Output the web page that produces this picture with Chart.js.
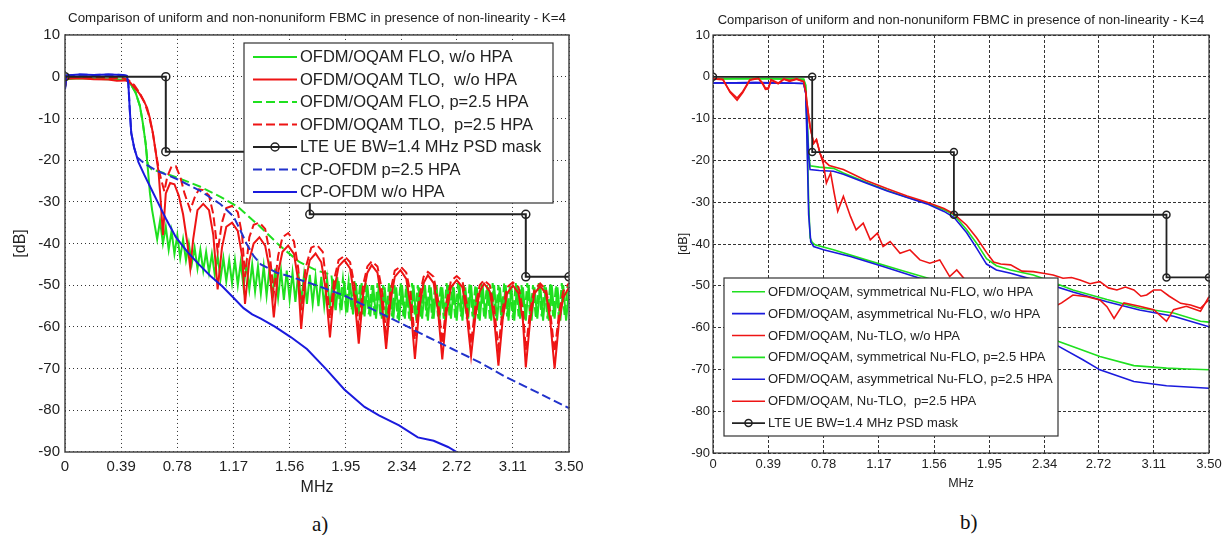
<!DOCTYPE html>
<html>
<head>
<meta charset="utf-8">
<script src="https://cdn.jsdelivr.net/npm/chart.js@4.4.1/dist/chart.umd.min.js"></script>
<style>
  body { margin: 0; background: #fff; width: 1227px; height: 535px; position: relative; overflow: hidden; }
  #left { position: absolute; left: 0; top: 0; }
  #right { position: absolute; left: 620px; top: 0; }
  .cap { position: absolute; font: 21px 'Liberation Serif', serif; line-height: 1; color: #111; }
</style>
</head>
<body>
<canvas id="left" width="600" height="500"></canvas>
<canvas id="right" width="607" height="500"></canvas>
<div class="cap" style="left:312px;top:514px">a)</div>
<div class="cap" style="left:960px;top:512px">b)</div>
<script>
const FONT = "'Liberation Sans', Arial, sans-serif"
const TITLE = 'Comparison of uniform and non-nonuniform FBMC in presence of non-linearity - K=4'
const X_TICKS = [0, 0.39, 0.78, 1.17, 1.56, 1.95, 2.34, 2.72, 3.11, 3.5]
const X_LABELS = ['0', '0.39', '0.78', '1.17', '1.56', '1.95', '2.34', '2.72', '3.11', '3.50']

// LTE UE BW=1.4 MHz PSD mask (same in both panels)
const mask = [[0,0],[0.7,0],[0.7,-18],[1.7,-18],[1.7,-33],[3.2,-33],[3.2,-48],[3.5,-48]]

// ---- panel a) ----
const floNoHpa = [
  [0,-2.5],[0.01,-0.6],[0.1,-0.4],[0.2,-0.5],[0.3,-0.6],[0.4,-0.7],[0.43,-0.9],[0.46,-2],[0.49,-3.8],[0.52,-7],
  [0.54,-11],[0.56,-16],[0.575,-22],[0.59,-28],[0.605,-32],[0.62,-35],
  [0.64,-39],[0.66,-34.5],[0.68,-40],[0.70,-36],[0.72,-41.5],[0.74,-37],[0.76,-42.5],[0.78,-38],[0.80,-43.5],[0.82,-39],
  [0.84,-44],[0.86,-40],[0.88,-45],[0.90,-41],[0.92,-46],[0.94,-41.5],[0.96,-46.5],[0.98,-42],[1.00,-47],[1.02,-42.5],
  [1.04,-47.5],[1.06,-43],[1.08,-48.5],[1.10,-43.5],[1.12,-49],[1.14,-44],[1.16,-49.5],[1.18,-44],[1.20,-50],[1.22,-44.5],
  [1.24,-50.5],[1.26,-45],[1.28,-51],[1.30,-45],[1.32,-51.5],[1.34,-45.5],[1.36,-52],[1.38,-45.5],[1.40,-52.5],[1.42,-46],
  [1.44,-53],[1.46,-46],[1.48,-53],[1.50,-46.5],[1.52,-53.5],[1.54,-46.5],[1.56,-53.5],[1.58,-47],[1.60,-54],[1.62,-47],
  [1.64,-54],[1.66,-47.5],[1.68,-54.5],[1.70,-47.5],[1.72,-54.5],[1.74,-48],[1.76,-55],[1.78,-48],[1.80,-55],[1.82,-48.5],
  [1.84,-55.5],[1.86,-48.5],[1.88,-56],[1.90,-49],[1.92,-56],[1.94,-49],[1.96,-56.5],[1.98,-49.5],[2.00,-57],[2.02,-49.5],
  [2.04,-57],[2.06,-49.5],[2.08,-57.5],[2.10,-50],[2.12,-57.5],[2.14,-50],[2.16,-58],[2.18,-50],[2.20,-58],[2.22,-50.5],
  [2.24,-58.5],[2.26,-50],[2.28,-58],[2.30,-50.5],[2.32,-58.5],[2.34,-50],[2.36,-58],[2.38,-50.5],[2.40,-58.5],[2.42,-50],
  [2.44,-58.5],[2.46,-50.5],[2.48,-58],[2.50,-50],[2.52,-58.5],[2.54,-50.5],[2.56,-58],[2.58,-50],[2.60,-58.5],[2.62,-50.5],
  [2.64,-58.5],[2.66,-50],[2.68,-58],[2.70,-50.5],[2.72,-58.5],[2.74,-50],[2.76,-58.5],[2.78,-50.5],[2.80,-58],[2.82,-50],
  [2.84,-58.5],[2.86,-50.5],[2.88,-58.5],[2.90,-50],[2.92,-58],[2.94,-50.5],[2.96,-58.5],[2.98,-50],[3.00,-58.5],[3.02,-50.5],
  [3.04,-58],[3.06,-50],[3.08,-58.5],[3.10,-50.5],[3.12,-58.5],[3.14,-50],[3.16,-58],[3.18,-50.5],[3.20,-58.5],[3.22,-50],
  [3.24,-58.5],[3.26,-50.5],[3.28,-58],[3.30,-50],[3.32,-58.5],[3.34,-50.5],[3.36,-58.5],[3.38,-50],[3.40,-58],[3.42,-50.5],
  [3.44,-58.5],[3.46,-50],[3.48,-58.5],[3.50,-51],
]
const floHpa = [
  [0,-2.5],[0.01,-0.3],[0.1,-0.2],[0.2,-0.3],[0.3,-0.4],[0.4,-0.5],[0.43,-0.8],[0.46,-2],[0.49,-3.8],[0.52,-7],
  [0.54,-11],[0.56,-16],[0.575,-21],[0.6,-22.2],[0.64,-22.6],[0.78,-24.2],[0.94,-26.4],[1.08,-28.8],[1.2,-31.2],
  [1.35,-35.8],[1.49,-40.5],[1.63,-44.5],[1.75,-46.5],[1.85,-47.5],
  [1.87,-54],[1.89,-48],[1.91,-55],[1.93,-48.5],[1.95,-55.5],[1.97,-49],[1.99,-56],[2.01,-49],[2.03,-56.5],[2.05,-49.5],
  [2.07,-57],[2.09,-49.5],[2.11,-57],[2.13,-50],[2.15,-57.5],[2.17,-49.5],[2.19,-57.5],[2.21,-50],[2.23,-58],[2.25,-49.5],
  [2.27,-57.5],[2.29,-50],[2.31,-58],[2.33,-49.5],[2.35,-57.5],[2.37,-50],[2.39,-58],[2.41,-49.5],[2.43,-57.5],[2.45,-50],
  [2.47,-58],[2.49,-49.5],[2.51,-57.5],[2.53,-50],[2.55,-58],[2.57,-49.5],[2.59,-57.5],[2.61,-50],[2.63,-58],[2.65,-49.5],
  [2.67,-57.5],[2.69,-50],[2.71,-58],[2.73,-49.5],[2.75,-57.5],[2.77,-50],[2.79,-58],[2.81,-49.5],[2.83,-57.5],[2.85,-50],
  [2.87,-58],[2.89,-49.5],[2.91,-57.5],[2.93,-50],[2.95,-58],[2.97,-49.5],[2.99,-57.5],[3.01,-50],[3.03,-58],[3.05,-49.5],
  [3.07,-57.5],[3.09,-50],[3.11,-58],[3.13,-49.5],[3.15,-57.5],[3.17,-50],[3.19,-58],[3.21,-49.5],[3.23,-57.5],[3.25,-50],
  [3.27,-58],[3.29,-49.5],[3.31,-57.5],[3.33,-50],[3.35,-58],[3.37,-49.5],[3.39,-57.5],[3.41,-50],[3.43,-58],[3.45,-49.5],
  [3.47,-57.5],[3.49,-50],
]
const tloNoHpa = [
  [0,-2.5],[0.01,-0.5],[0.1,-0.4],[0.2,-0.6],[0.3,-0.7],[0.36,-1],[0.42,-0.9],[0.45,-1.3],[0.48,-2.5],[0.52,-4.2],
  [0.55,-6],[0.57,-7.5],[0.59,-10],[0.61,-13.5],[0.63,-18],[0.65,-23],[0.665,-30],[0.68,-38],
  [0.70,-28],[0.73,-25.5],[0.76,-25.8],[0.79,-28.5],[0.82,-33],[0.85,-40],[0.87,-46],[0.89,-39],[0.92,-32],[0.96,-30.5],
  [1.0,-32],[1.03,-38],[1.06,-51],[1.09,-41],[1.12,-36],[1.16,-35],[1.2,-37],[1.23,-43],[1.25,-54.5],[1.28,-44],
  [1.31,-40],[1.35,-38.5],[1.39,-40.5],[1.42,-46],[1.45,-57.7],[1.48,-47],[1.51,-42],[1.55,-40.5],[1.59,-42.5],[1.62,-49],
  [1.64,-60.5],[1.67,-49],[1.70,-44],[1.74,-42.4],[1.78,-44.5],[1.81,-51],[1.84,-62.5],[1.87,-51],[1.90,-45.5],[1.94,-44],
  [1.98,-46],[2.01,-53],[2.04,-64],[2.07,-52.5],[2.10,-47],[2.13,-45.2],[2.17,-47],[2.20,-54],[2.23,-65.3],[2.26,-54],
  [2.29,-48],[2.33,-46.4],[2.37,-48.5],[2.40,-55],[2.43,-67.7],[2.46,-55.5],[2.49,-49.5],[2.52,-47.6],[2.56,-49.5],[2.59,-56],
  [2.62,-67.8],[2.65,-56.5],[2.68,-50.5],[2.72,-48.8],[2.76,-50.5],[2.79,-57],[2.82,-67],[2.85,-57.5],[2.88,-51.5],[2.91,-49.6],
  [2.95,-51.5],[2.98,-58],[3.01,-69.3],[3.04,-58],[3.07,-52],[3.11,-50],[3.15,-52],[3.18,-58.5],[3.20,-69.7],[3.23,-58.5],
  [3.26,-52],[3.30,-50.2],[3.34,-52],[3.37,-58.5],[3.40,-70],[3.43,-59],[3.46,-53],[3.50,-50.5],
]
const tloHpa = [
  [0,-2.5],[0.01,-0.2],[0.1,-0.1],[0.2,-0.2],[0.3,-0.3],[0.4,-0.4],[0.44,-0.8],[0.48,-2],[0.52,-4],[0.55,-6],
  [0.58,-9],[0.61,-13.5],[0.63,-18],[0.65,-22],[0.67,-25],[0.69,-27.5],[0.71,-24],[0.74,-21.5],[0.77,-21.5],[0.80,-24],
  [0.83,-28],[0.87,-32],[0.90,-29],[0.93,-27],[0.96,-27.2],[1.0,-28.5],[1.03,-33],[1.06,-42],[1.09,-35],[1.12,-31.5],
  [1.16,-31],[1.2,-32.5],[1.23,-38],[1.25,-48],[1.28,-38.5],[1.31,-35.5],[1.35,-35],[1.39,-36.5],[1.42,-42],[1.45,-52],
  [1.48,-43],[1.51,-38.5],[1.55,-37.5],[1.59,-39.5],[1.62,-46],[1.64,-56],[1.67,-46],[1.71,-41],[1.75,-40.4],[1.79,-42],
  [1.81,-48],[1.84,-58],[1.87,-48.5],[1.90,-44],[1.94,-43],[1.98,-44.5],[2.01,-50],[2.04,-60],[2.07,-50],[2.10,-45.5],
  [2.13,-44.3],[2.17,-45.5],[2.20,-51],[2.23,-61.5],[2.26,-51.5],[2.29,-46.5],[2.33,-45.5],[2.37,-47],[2.40,-52],[2.43,-63],
  [2.46,-53],[2.49,-48],[2.52,-46.8],[2.56,-48],[2.59,-53.5],[2.62,-64],[2.65,-54],[2.68,-49],[2.72,-47.8],[2.76,-49],
  [2.79,-54.5],[2.82,-64],[2.85,-55],[2.88,-50],[2.91,-48.8],[2.95,-50],[2.98,-55.5],[3.01,-65],[3.04,-55.5],[3.07,-50.5],
  [3.11,-49.3],[3.15,-50.5],[3.18,-56],[3.20,-65.5],[3.23,-56],[3.26,-51],[3.30,-49.6],[3.34,-51],[3.37,-56.5],[3.40,-66],
  [3.43,-57],[3.46,-51.5],[3.50,-49.5],
]
const cpHpa = [
  [0,-3],[0.01,0.3],[0.1,0.5],[0.2,0.4],[0.3,0.5],[0.4,0.4],[0.43,0.2],[0.44,-1.8],[0.45,-8],[0.46,-13.5],
  [0.48,-17],[0.5,-19.3],[0.55,-20.8],[0.64,-22.6],[0.78,-24.6],[0.94,-27.4],[1.08,-30.6],[1.17,-33.5],[1.22,-37],
  [1.26,-40],[1.31,-43],[1.36,-45],[1.47,-47],[1.57,-48],[1.76,-50.2],[1.94,-52.5],[2.13,-55.7],[2.32,-58.9],
  [2.5,-62.1],[2.69,-65.3],[2.88,-68.5],[3.06,-72],[3.28,-75.7],[3.5,-79.5],
]
const cpNoHpa = [
  [0,-3],[0.01,0.3],[0.1,0.5],[0.2,0.4],[0.3,0.5],[0.4,0.4],[0.43,0.2],[0.44,-1.8],[0.45,-8],[0.46,-13.5],
  [0.48,-17],[0.51,-20.5],[0.55,-23.5],[0.6,-27],[0.65,-30.5],[0.7,-34],[0.77,-38.5],[0.85,-42],[0.93,-45],
  [1.01,-47.8],[1.09,-50.2],[1.17,-53],[1.24,-55.5],[1.3,-57],[1.36,-58],[1.46,-60],[1.57,-62.5],[1.68,-65.3],
  [1.81,-70],[1.94,-75],[2.08,-79.2],[2.18,-81.2],[2.32,-83.6],[2.45,-86.5],[2.56,-87.3],[2.66,-88.8],[2.72,-90],
]

// ---- panel b) ----
const symNoHpa = [
  [0,-0.5],[0.3,-0.4],[0.5,-0.5],[0.64,-0.6],[0.655,-3],[0.665,-15],[0.675,-30],[0.685,-38.5],[0.7,-39.6],[0.72,-40.2],
  [0.85,-41.4],[1.08,-43.8],[1.32,-46.2],[1.56,-48.6],[1.8,-51.5],[2.0,-55],[2.2,-59],[2.44,-63.3],[2.6,-65.3],
  [2.73,-66.9],[2.97,-69.1],[3.2,-69.7],[3.35,-69.9],[3.5,-70.1],
]
const asymNoHpa = [
  [0,-1.5],[0.3,-1.4],[0.5,-1.5],[0.64,-1.6],[0.655,-4],[0.665,-18],[0.675,-33],[0.69,-39.5],[0.71,-40.6],[0.78,-41.4],
  [0.97,-43],[1.2,-45.4],[1.46,-48.2],[1.7,-51],[1.95,-55.5],[2.2,-60],[2.44,-64.5],[2.61,-67.7],[2.73,-70.1],
  [2.97,-72.9],[3.2,-73.9],[3.5,-74.5],
]
const tloNuNoHpa = [
  [0,-0.5],[0.07,-0.7],[0.12,-3.5],[0.17,-5.1],[0.21,-3.5],[0.26,-0.7],[0.32,-0.3],[0.35,-1.5],[0.37,-2.7],[0.39,-2.7],
  [0.41,-0.7],[0.46,-1.5],[0.5,-0.5],[0.54,-0.9],[0.59,-0.5],[0.64,-1.1],[0.656,-3.9],[0.66,-5.5],[0.685,-11.9],
  [0.71,-15.9],[0.73,-15],[0.755,-18.3],[0.78,-21],[0.80,-25.4],[0.83,-23],[0.855,-27.8],[0.88,-32.2],[0.92,-28.6],
  [0.97,-33.4],[1.01,-36.6],[1.06,-35],[1.11,-39],[1.16,-37.4],[1.2,-40.6],[1.25,-39.4],[1.32,-42.2],[1.39,-41.4],
  [1.46,-43.8],[1.53,-44.6],[1.6,-43.8],[1.67,-47.8],[1.72,-46.2],[1.79,-49],[1.86,-50],[1.93,-49],[2.0,-52],[2.1,-51.5],
  [2.2,-54],[2.3,-52.5],[2.38,-55.5],[2.46,-54.1],[2.54,-52.2],[2.64,-52.6],[2.73,-53.4],[2.78,-55],[2.83,-57.8],
  [2.9,-54.1],[3.01,-54.9],[3.11,-55.7],[3.2,-58.5],[3.25,-55.7],[3.34,-54.9],[3.44,-56.1],[3.5,-52.6],
]
const symHpa = [
  [0,-0.5],[0.3,-0.4],[0.5,-0.5],[0.64,-0.6],[0.655,-2],[0.665,-10],[0.675,-18],[0.685,-21.3],[0.75,-21.6],[0.85,-21.9],
  [0.92,-23],[1.08,-25.2],[1.23,-27.2],[1.37,-28.8],[1.51,-30.2],[1.63,-31.8],[1.70,-33],[1.79,-36.6],[1.86,-39.8],
  [1.93,-43.5],[2.0,-45.2],[2.1,-46.2],[2.26,-47.4],[2.31,-48],[2.54,-51],[2.78,-53.3],[3.01,-55.3],[3.25,-56.5],
  [3.44,-58.5],[3.5,-58.7],
]
const asymHpa = [
  [0,-1.5],[0.3,-1.4],[0.5,-1.5],[0.64,-1.6],[0.655,-4],[0.665,-12],[0.675,-19],[0.685,-22.2],[0.75,-22.4],[0.85,-22.6],
  [0.92,-23.3],[1.08,-25.4],[1.23,-27.3],[1.37,-28.9],[1.51,-30.4],[1.63,-32.2],[1.70,-33.6],[1.79,-37.3],[1.86,-41],
  [1.93,-44.8],[2.0,-46.2],[2.1,-47],[2.31,-49],[2.54,-51.5],[2.78,-53.8],[3.01,-55.8],[3.25,-57.3],[3.44,-59.2],[3.5,-59.8],
]
const tloNuHpa = [
  [0,-0.4],[0.07,-0.6],[0.12,-3.7],[0.17,-5.6],[0.21,-3.8],[0.26,-0.8],[0.32,-0.4],[0.35,-1.7],[0.37,-3],[0.39,-2.9],
  [0.41,-0.8],[0.46,-1.7],[0.5,-0.6],[0.54,-1.1],[0.59,-0.6],[0.64,-1.2],[0.656,-3.9],[0.66,-5.5],[0.685,-11.9],
  [0.71,-15.9],[0.73,-15],[0.755,-18.3],[0.78,-20],[0.82,-21.2],[0.92,-22.2],[1.08,-24.8],[1.23,-26.8],[1.37,-28.5],
  [1.51,-30],[1.63,-31.5],[1.70,-32.8],[1.79,-35.5],[1.86,-38.5],[1.93,-42],[1.98,-44.3],[2.03,-44.8],[2.1,-45],
  [2.18,-46.5],[2.26,-46.6],[2.33,-47],[2.4,-47.4],[2.47,-48.2],[2.53,-48],[2.59,-48.6],[2.66,-49.5],[2.73,-49],
  [2.79,-50.5],[2.85,-51],[2.91,-50.3],[2.97,-51],[3.02,-52.5],[3.06,-52.2],[3.11,-51],[3.16,-51],[3.22,-52.5],
  [3.3,-54.2],[3.37,-54.6],[3.44,-55.4],[3.48,-54],[3.5,-53.4],
]

const GREEN = '#1fe01f'
const RED = '#ee1414'
const BLUE = '#1a1add'
const BLACK = '#222'

function line(label, pts, color, width, dash) {
  return {
    label,
    data: pts.map(([x, y]) => ({x, y})),
    borderColor: color,
    backgroundColor: color,
    borderWidth: width,
    borderDash: dash || [],
    pointRadius: 0,
    tension: 0,
    fill: false,
  }
}

function maskLine(width, r) {
  return Object.assign(line('LTE UE BW=1.4 MHz PSD mask', mask, BLACK, width), {
    pointRadius: r,
    pointBorderColor: BLACK,
    pointBackgroundColor: 'rgba(0,0,0,0)',
    pointBorderWidth: 1.5,
  })
}

// frame round the plot area and a MATLAB-like boxed legend
const boxLegend = {
  id: 'boxLegend',
  afterDraw(chart, args, o) {
    const {ctx, chartArea: a} = chart
    ctx.save()
    ctx.strokeStyle = o.frameColor
    ctx.lineWidth = o.frameWidth
    ctx.strokeRect(a.left, a.top, a.right - a.left, a.bottom - a.top)
    ctx.fillStyle = '#fff'
    ctx.fillRect(o.x, o.y, o.w, o.h)
    ctx.strokeStyle = '#333'
    ctx.lineWidth = 1.2
    ctx.strokeRect(o.x, o.y, o.w, o.h)
    ctx.font = `${o.fontSize}px ${FONT}`
    ctx.textBaseline = 'middle'
    o.order.forEach((k, i) => {
      const ds = chart.data.datasets[k]
      const y = o.y + o.first + i * o.rowH
      ctx.setLineDash(ds.borderDash)
      ctx.strokeStyle = ds.borderColor
      ctx.lineWidth = ds.borderWidth
      ctx.beginPath()
      ctx.moveTo(o.x + o.s1, y)
      ctx.lineTo(o.x + o.s2, y)
      ctx.stroke()
      ctx.setLineDash([])
      if (ds.pointRadius) {
        ctx.lineWidth = 1.5
        ctx.beginPath()
        ctx.arc(o.x + (o.s1 + o.s2) / 2, y, ds.pointRadius, 0, Math.PI * 2)
        ctx.stroke()
      }
      ctx.fillStyle = '#222'
      ctx.fillText(ds.label, o.x + o.tx, y + 0.5)
    })
    ctx.restore()
  },
}

function makeChart(id, datasets, c) {
  const tickFont = {family: FONT, size: c.tickSize}
  return new Chart(document.getElementById(id), {
    type: 'line',
    data: {datasets},
    plugins: [boxLegend],
    options: {
      responsive: false,
      animation: false,
      layout: {padding: {left: c.padLeft, right: c.padRight, top: 0, bottom: 0}},
      plugins: {
        legend: {display: false},
        tooltip: {enabled: false},
        title: {
          display: true,
          text: TITLE,
          fullSize: false,
          color: '#222',
          font: {family: FONT, size: c.titleSize, weight: 'normal'},
          padding: {top: c.titleTop, bottom: c.titleBottom},
        },
        boxLegend: c.legend,
      },
      scales: {
        x: {
          type: 'linear',
          min: 0,
          max: 3.5,
          afterBuildTicks: s => {
            s.ticks = X_TICKS.map(v => ({value: v}))
          },
          afterFit: s => {
            s.height = c.xH
          },
          ticks: {
            autoSkip: false,
            maxRotation: 0,
            font: tickFont,
            color: '#222',
            padding: c.xTickPad,
            callback: (v, i) => X_LABELS[i],
          },
          grid: {color: '#333', lineWidth: 1, drawTicks: false},
          border: {display: false, dash: c.dash},
          title: {
            display: true,
            text: 'MHz',
            color: '#222',
            font: {family: FONT, size: c.axisTitleSize},
            padding: {top: 0, bottom: c.mhzBottom},
          },
        },
        y: {
          min: -90,
          max: 10,
          afterFit: s => {
            s.width = c.yW
          },
          ticks: {stepSize: 10, font: tickFont, color: '#222', padding: c.yTickPad},
          grid: {color: '#333', lineWidth: 1, drawTicks: false},
          border: {display: false, dash: c.dash},
          title: {
            display: true,
            text: '[dB]',
            color: '#222',
            font: {family: FONT, size: c.axisTitleSize},
            padding: {top: c.dbTop, bottom: 0},
          },
        },
      },
    },
  })
}

// panel a) datasets, first one drawn on top
makeChart('left', [
  maskLine(2, 4),
  line('CP-OFDM w/o HPA', cpNoHpa, BLUE, 2),
  line('CP-OFDM p=2.5 HPA', cpHpa, '#2233cc', 2, [9, 4]),
  line('OFDM/OQAM TLO,  p=2.5 HPA', tloHpa, RED, 2, [9, 4]),
  line('OFDM/OQAM TLO,  w/o HPA', tloNoHpa, RED, 2),
  line('OFDM/OQAM FLO, p=2.5 HPA', floHpa, GREEN, 2, [9, 4]),
  line('OFDM/OQAM FLO, w/o HPA', floNoHpa, GREEN, 2),
], {
  padLeft: 4, padRight: 31, yW: 61, xH: 48,
  tickSize: 15, axisTitleSize: 16, titleSize: 13.3,
  titleTop: 10, titleBottom: 9, xTickPad: 6, yTickPad: 5, mhzBottom: 3, dbTop: 7,
  dash: [1, 3],
  legend: {
    x: 244, y: 43, w: 309, h: 160, first: 14, rowH: 22.5, s1: 9, s2: 53, tx: 56, fontSize: 16.5,
    frameColor: '#444', frameWidth: 1.5,
    order: [6, 4, 5, 3, 0, 2, 1],
  },
})

// panel b)
makeChart('right', [
  maskLine(1.8, 3.5),
  line('OFDM/OQAM, Nu-TLO,  p=2.5 HPA', tloNuHpa, RED, 1.6),
  line('OFDM/OQAM, Nu-TLO, w/o HPA', tloNuNoHpa, RED, 1.6),
  line('OFDM/OQAM, asymmetrical Nu-FLO, p=2.5 HPA', asymHpa, BLUE, 1.6),
  line('OFDM/OQAM, asymmetrical Nu-FLO, w/o HPA', asymNoHpa, BLUE, 1.6),
  line('OFDM/OQAM, symmetrical Nu-FLO, p=2.5 HPA', symHpa, GREEN, 1.6),
  line('OFDM/OQAM, symmetrical Nu-FLO, w/o HPA', symNoHpa, GREEN, 1.6),
], {
  padLeft: 54, padRight: 18, yW: 39, xH: 47,
  tickSize: 13, axisTitleSize: 12.5, titleSize: 13,
  titleTop: 12.4, titleBottom: 7, xTickPad: 4, yTickPad: 3, mhzBottom: 9, dbTop: 2,
  dash: [3, 2],
  legend: {
    x: 104, y: 278, w: 334, h: 158, first: 13.7, rowH: 21.9, s1: 8, s2: 41, tx: 44, fontSize: 13,
    frameColor: '#333', frameWidth: 1.2,
    order: [6, 4, 2, 5, 3, 1, 0],
  },
})
</script>
</body>
</html>
